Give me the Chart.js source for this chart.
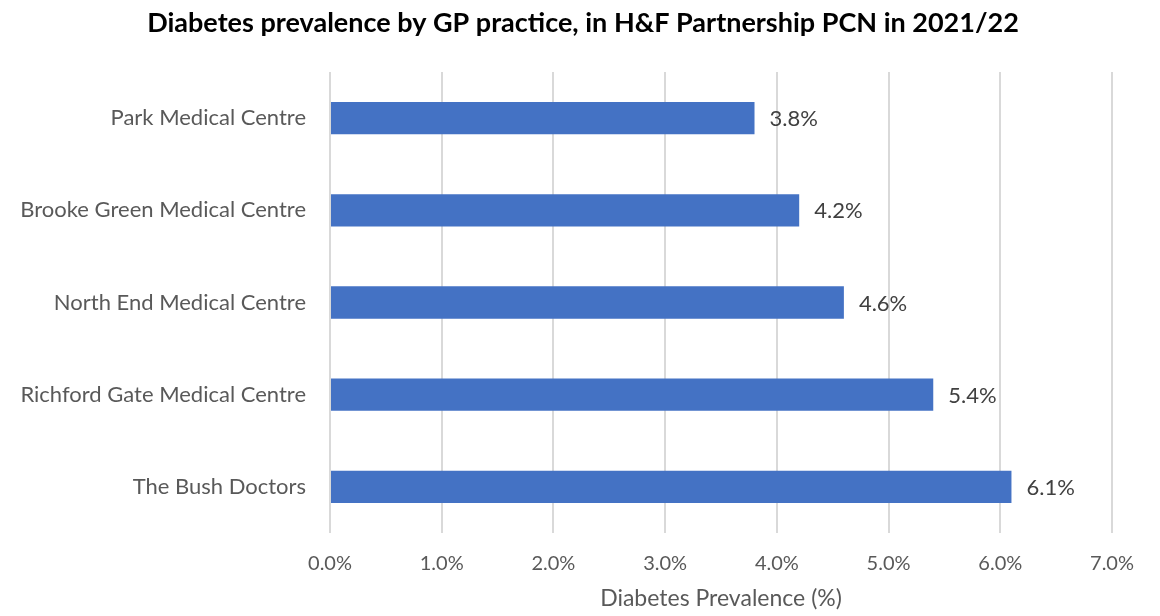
<!DOCTYPE html>
<html>
<head>
<meta charset="utf-8">
<script src="https://cdn.jsdelivr.net/npm/chart.js@4.4.1/dist/chart.umd.min.js"></script>
<style>
  html, body { margin: 0; padding: 0; background: #fff; }
  #wrap { width: 1160px; height: 616px; }
</style>
</head>
<body>
<div id="wrap"><canvas id="myChart" width="1160" height="616"></canvas></div>
<script>
const practices = ["Park Medical Centre", "Brooke Green Medical Centre", "North End Medical Centre", "Richford Gate Medical Centre", "The Bush Doctors"];
const prevalence = [3.8, 4.2, 4.6, 5.4, 6.1];
const xTicks = [0, 1, 2, 3, 4, 5, 6, 7];
const chartTitle = "Diabetes prevalence by GP practice, in H&F Partnership PCN in 2021/22";

const FONT = "Lato, 'Open Sans', sans-serif";

// value labels at the end of each bar + the page title
const barLabels = {
  id: 'barLabels',
  afterDatasetsDraw(chart) {
    const ctx = chart.ctx;
    const meta = chart.getDatasetMeta(0);
    ctx.save();
    ctx.font = "22px " + FONT;
    ctx.fillStyle = "#404040";
    ctx.textAlign = "left";
    ctx.textBaseline = "middle";
    meta.data.forEach((bar, i) => {
      ctx.fillText(prevalence[i].toFixed(1) + "%", bar.x + 15, bar.y + 1);
    });
    // title, centred on the whole picture
    ctx.font = "bold 27px " + FONT;
    ctx.fillStyle = "#000";
    ctx.textAlign = "center";
    ctx.fillText(chartTitle, 583, 23);
    ctx.restore();
  }
};

new Chart("myChart", {
  type: "bar",
  data: {
    labels: practices,
    datasets: [{
      data: prevalence,
      backgroundColor: "#4472C4",
      barPercentage: 0.35,
      categoryPercentage: 1
    }]
  },
  options: {
    indexAxis: 'y',
    responsive: false,
    animation: false,
    layout: { padding: { left: 0, right: 48, top: 72, bottom: 0 } },
    plugins: {
      legend: { display: false },
      tooltip: { enabled: false },
      title: { display: false }
    },
    scales: {
      x: {
        min: 0,
        max: 7,
        afterBuildTicks(scale) {
          scale.ticks = xTicks.map(v => ({ value: v }));
        },
        afterFit(scale) { scale.height = 83; },
        grid: { color: "#d9d9d9", lineWidth: 2, drawTicks: false },
        border: { display: false },
        ticks: {
          padding: 19,
          color: "#595959",
          font: { family: FONT, size: 20 },
          callback: v => v.toFixed(1) + "%"
        },
        title: {
          display: true,
          text: "Diabetes Prevalence (%)",
          color: "#595959",
          font: { family: FONT, size: 23 },
          padding: { top: 8 }
        }
      },
      y: {
        afterFit(scale) { scale.width = 330; },
        grid: { display: false },
        border: { display: false },
        ticks: {
          padding: 16,
          color: "#595959",
          font: { family: FONT, size: 22 }
        }
      }
    }
  },
  plugins: [barLabels]
});
</script>
</body>
</html>
